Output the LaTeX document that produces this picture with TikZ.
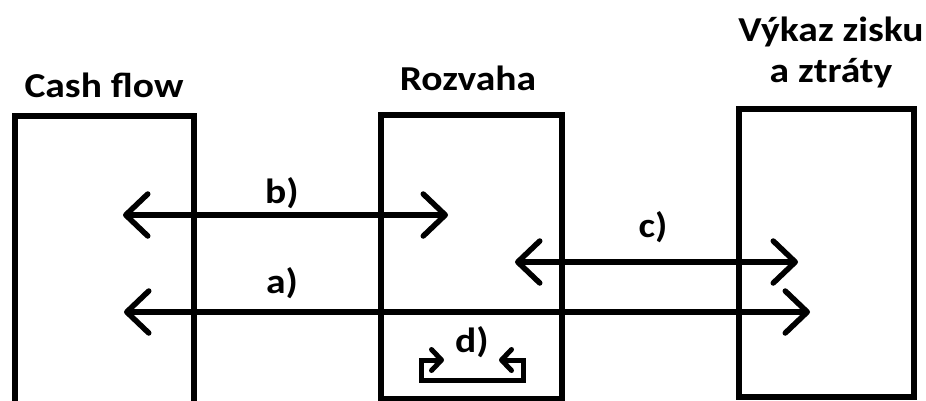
\documentclass[tikz,border=0pt]{standalone}
\usepackage{fontspec}
\setmainfont{Carlito}[FakeStretch=1.13]
\usetikzlibrary{arrows.meta}

\begin{document}
\begin{tikzpicture}[
    x=1pt, y=1pt,
    box/.style={draw, line width=6pt, inner sep=0pt, outer sep=0pt},
    heading/.style={font=\fontsize{35}{40}\selectfont\bfseries, align=center, anchor=base, inner sep=0pt},
    lbl/.style={font=\fontsize{35}{40}\selectfont\bfseries, anchor=base, inner sep=0pt},
    arrow/.style={{Straight Barb[length=22pt, width=42pt, round]}-{Straight Barb[length=22pt, width=42pt, round]}, line width=5.5pt},
    selfarrow/.style={{Straight Barb[length=10pt, width=21pt, round]}-{Straight Barb[length=10pt, width=21pt, round]}, line width=5pt, line join=miter}
]
    \clip (0,0) rectangle (926,400);

    % Statements
    \node[box, minimum width=179.5, minimum height=304.5] (cashflow) at (104.25,132.25) {};
    \node[box, minimum width=181, minimum height=284] (rozvaha) at (471.5,143.5) {};
    \node[box, minimum width=175, minimum height=288.5] (vykaz) at (826.5,147.25) {};

    % Headings
    \node[heading] (cf-title) at (104,303) {Cash flow};
    \node[heading] (rz-title) at (468,310) {Rozvaha};
    \node[heading] (vk-title) at (831,318) {Výkaz zisku\\a ztráty};

    % Arrow ends
    \coordinate (b-l) at (123,185);
    \coordinate (b-r) at (448,185);
    \coordinate (a-l) at (124,88);
    \coordinate (a-r) at (810,88);
    \coordinate (c-l) at (515,138);
    \coordinate (c-r) at (798,138);
    \coordinate (d-l) at (444,40);
    \coordinate (d-r) at (499,40);

    % Arrows
    \draw[arrow] (b-l) -- (b-r);
    \draw[arrow] (a-l) -- (a-r);
    \draw[arrow] (c-l) -- (c-r);
    \draw[selfarrow] (d-l) -| (421.5,19.5) -| (523.5,40) -- (d-r);

    % Labels
    \node[lbl] (b) at (282,197) {b)};
    \node[lbl] (a) at (282,107) {a)};
    \node[lbl] (c) at (653,163) {c)};
    \node[lbl] (d) at (472,48) {d)};
\end{tikzpicture}
\end{document}
